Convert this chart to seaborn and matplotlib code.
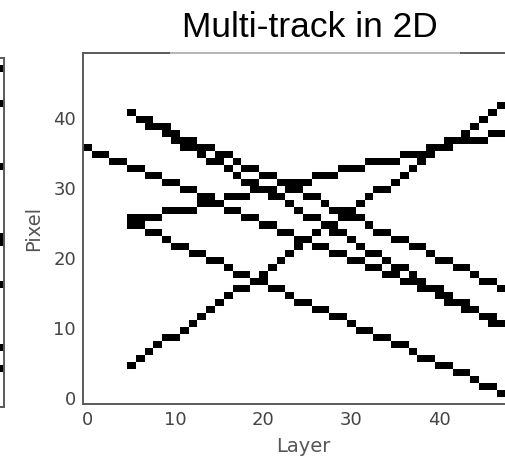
import numpy as np
import pandas as pd
import matplotlib
matplotlib.use('Agg')
import matplotlib.pyplot as plt
import seaborn as sns
from matplotlib.colors import ListedColormap
from matplotlib.patches import Rectangle

# ==============================
# DATA: hit pixel per layer for each track
# ==============================
n_layers = 50
n_pixels = 50

layers_from0 = list(range(0, 50))
layers_from5 = list(range(5, 50))

track_down_top = [41, 40, 40, 39, 39, 38, 37, 37, 36, 36,
                  35, 35, 34, 33, 33, 32, 32, 31, 30, 30,
                  29, 29, 28, 27, 27, 26, 26, 25, 24, 24,
                  23, 23, 22, 22, 21, 20, 20, 19, 19, 18,
                  17, 17, 16, 16, 15]
track_down_steep = [41, 40, 39, 39, 38, 37, 36, 36, 35, 34,
                    34, 33, 32, 31, 31, 30, 29, 29, 28, 27,
                    26, 26, 25, 24, 24, 23, 22, 21, 21, 20,
                    19, 19, 18, 17, 16, 16, 15, 14, 14, 13,
                    12, 11, 11, 10, 9]
track_down_long = [36, 35, 35, 34, 34, 33, 33, 32, 32, 31,
                   31, 30, 30, 29, 29, 28, 27, 27, 26, 26,
                   25, 25, 24, 24, 23, 23, 22, 22, 21, 21,
                   20, 20, 19, 19, 18, 18, 17, 17, 16, 16,
                   15, 14, 14, 13, 13, 12, 12, 11, 11, 10]
track_down_low = [25, 25, 24, 24, 23, 22, 22, 21, 21, 20,
                  20, 19, 18, 18, 17, 17, 16, 16, 15, 14,
                  14, 13, 13, 12, 12, 11, 10, 10, 9, 9,
                  8, 8, 7, 6, 6, 5, 5, 4, 4, 3,
                  2, 2, 1, 1, 0]
track_up_steep = [5, 6, 7, 8, 9, 9, 10, 11, 12, 13,
                  14, 15, 16, 16, 17, 18, 19, 20, 21, 22,
                  23, 24, 25, 25, 26, 27, 28, 29, 30, 30,
                  31, 32, 33, 34, 35, 36, 36, 37, 38, 39,
                  40, 41, 42, 43, 44]
track_up_flat = [26, 26, 26, 26, 27, 27, 27, 27, 28, 28,
                 28, 29, 29, 29, 30, 30, 30, 31, 31, 31,
                 31, 32, 32, 32, 33, 33, 33, 34, 34, 34,
                 34, 35, 35, 35, 36, 36, 37, 37, 37, 37,
                 37, 38, 38, 38, 38]

# neighbouring panel, only its last column shows at the left edge
left_panel_pixels = [48, 43, 34, 24, 23, 17, 8, 5]

tick_vals = [0, 10, 20, 30, 40]

tracks = [(layers_from5, track_down_top),
          (layers_from5, track_down_steep),
          (layers_from0, track_down_long),
          (layers_from5, track_down_low),
          (layers_from5, track_up_steep),
          (layers_from5, track_up_flat)]

grid = np.zeros((n_pixels, n_layers))
for lay, pix in tracks:
    for l, p in zip(lay, pix):
        grid[p, l] = 1
hits = pd.DataFrame(grid, index=range(n_pixels), columns=range(n_layers))

left_grid = np.zeros((n_pixels, n_layers))
for p in left_panel_pixels:
    left_grid[p, n_layers - 1] = 1
left_hits = pd.DataFrame(left_grid)

# ==============================
# PLOT
# ==============================
sns.set_style('white')
plt.rcParams['font.family'] = ['DejaVu Sans']

W, H = 505, 458
fig = plt.figure(figsize=(W / 100, H / 100), dpi=100)


def px_box(x0, y0, x1, y1):
    return [x0 / W, 1 - y1 / H, (x1 - x0) / W, (y1 - y0) / H]


cmap = ListedColormap(['white', 'black'])
spine_col = '#5a5a5a'
text_col = '#444444'

ax = fig.add_axes(px_box(83, 53, 523, 404))
sns.heatmap(hits, cmap=cmap, vmin=0, vmax=1, cbar=False, ax=ax)
ax.set_xlim(0, n_layers)
ax.set_ylim(0, n_pixels)
ax.set_xticks([t + 0.5 for t in tick_vals])
ax.set_xticklabels([str(t) for t in tick_vals], rotation=0)
ax.set_yticks([t + 0.5 for t in tick_vals])
ax.set_yticklabels([str(t) for t in tick_vals], rotation=0)
ax.tick_params(direction='in', length=4, width=0.9, color='#777777',
               labelcolor=text_col, labelsize=13, top=True, right=True, pad=5)
for s in ax.spines.values():
    s.set_visible(True)
    s.set_color(spine_col)
    s.set_linewidth(1.4)
ax.set_xlabel('Layer', fontsize=14, color='#555555', labelpad=6)
ax.set_ylabel('Pixel', fontsize=14, color='#555555', labelpad=7)

# partial neighbour panel
ax2 = fig.add_axes(px_box(-436, 58, 4, 407))
sns.heatmap(left_hits, cmap=cmap, vmin=0, vmax=1, cbar=False, ax=ax2)
ax2.set_xlim(0, n_layers)
ax2.set_ylim(0, n_pixels)
ax2.set_xticks([])
ax2.set_yticks([t + 0.5 for t in tick_vals])
ax2.set_yticklabels([])
ax2.tick_params(direction='in', length=4, color='#777777', left=False, right=True)
for s in ax2.spines.values():
    s.set_visible(True)
    s.set_color(spine_col)
    s.set_linewidth(1.4)

# faded stretch of the top frame behind the title
fig.add_artist(Rectangle((170 / W, 1 - 57 / H), 290 / W, 7 / H,
                         transform=fig.transFigure, facecolor='white',
                         edgecolor='none', alpha=0.55, zorder=10))

fig.text(310 / W, 1 - 37 / H, 'Multi-track in 2D', ha='center', va='baseline',
         fontsize=25.5, color='black', family=['Liberation Sans', 'DejaVu Sans'])

fig.savefig('out.png', dpi=100)
